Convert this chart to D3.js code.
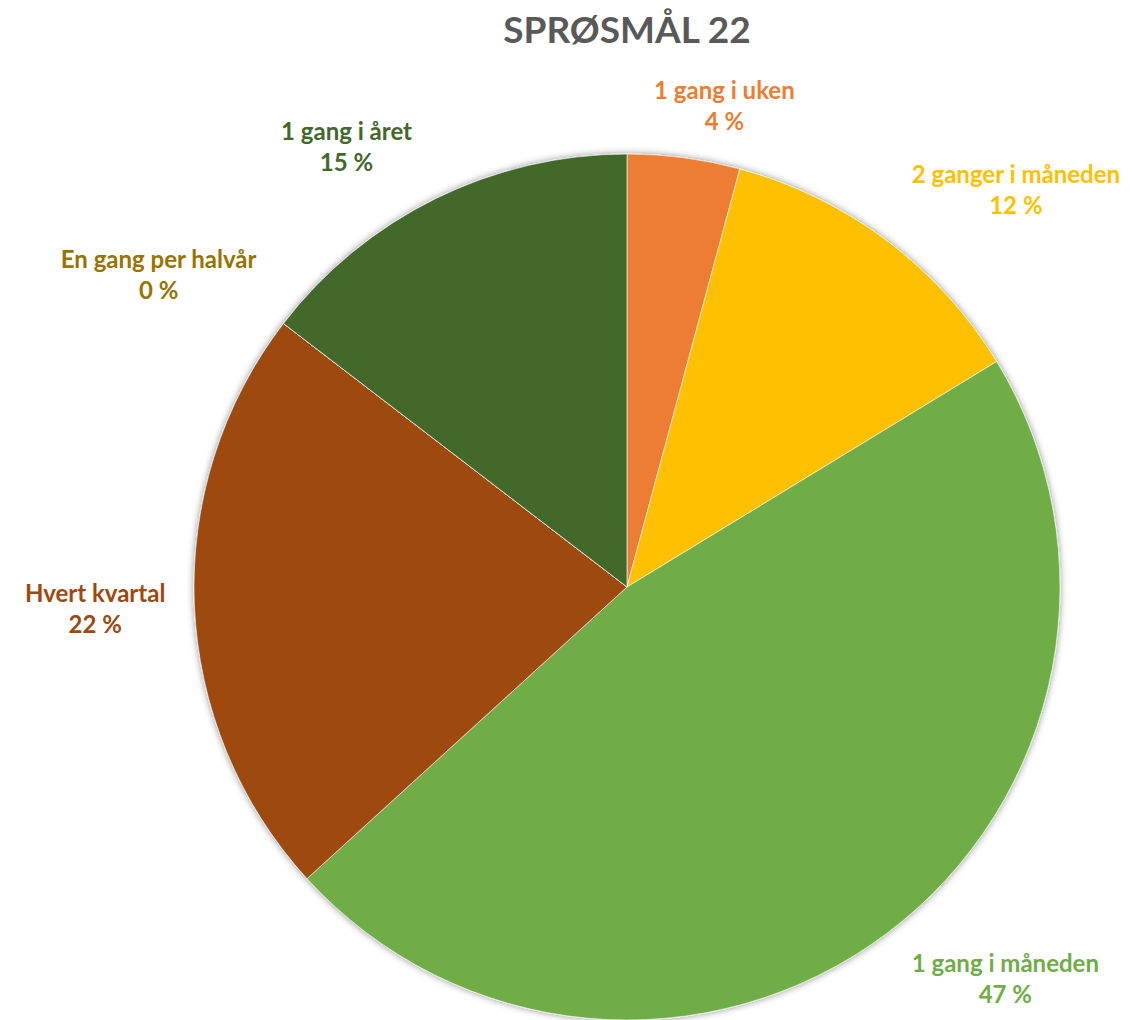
<!DOCTYPE html>
<html>
<head>
<meta charset="utf-8">
<script src="https://cdn.jsdelivr.net/npm/d3@7"></script>
<style>
  html, body { margin: 0; padding: 0; background: #ffffff; }
  svg { display: block; }
</style>
</head>
<body>
<svg id="chart" width="1132" height="1020"></svg>
<script>
// ---- data ----
const title = "SPRØSMÅL 22";
const categories = ["1 gang i uken", "2 ganger i måneden", "1 gang i måneden", "Hvert kvartal", "En gang per halvår", "1 gang i året"];
const values = [4.2, 12.1, 47.0, 22.2, 0, 14.6];
const sliceColors = ["#ED7D31", "#FFC000", "#70AD47", "#9E480E", "#997300", "#43682B"];

// ---- layout ----
const W = 1132, H = 1020;
const cx = 627, cy = 587, R = 433;
const fontFamily = "Lato, 'Open Sans', 'Liberation Sans', sans-serif";

const svg = d3.select("#chart");

const defs = svg.append("defs");
const f = defs.append("filter").attr("id", "shadow")
  .attr("x", "-10%").attr("y", "-10%").attr("width", "120%").attr("height", "120%");
f.append("feDropShadow").attr("dx", 0).attr("dy", 0).attr("stdDeviation", 3.5)
  .attr("flood-color", "#000").attr("flood-opacity", 0.45);

svg.append("text")
  .attr("x", cx).attr("y", 43)
  .attr("text-anchor", "middle")
  .attr("font-family", fontFamily).attr("font-weight", "bold")
  .attr("font-size", 37).attr("fill", "#595959")
  .text(title);

const data = categories.map((c, i) => ({ name: c, value: values[i], color: sliceColors[i] }));

const pie = d3.pie().sort(null).value(d => d.value);
const arcs = pie(data);
const arc = d3.arc().innerRadius(0).outerRadius(R);

const g = svg.append("g").attr("transform", `translate(${cx},${cy})`);

const sliceG = g.append("g").attr("filter", "url(#shadow)");
sliceG.selectAll("path").data(arcs).join("path")
  .attr("d", arc)
  .attr("fill", d => d.data.color)
  .attr("stroke", "#ffffff").attr("stroke-width", 0.6);

// ---- labels ----
const fmt = d3.format(".0f");
const fs = 24, lineH = 31, gapR = 10, dx = 19, dy = 13;
const clamp = v => Math.max(-1, Math.min(1, v));

arcs.forEach(a => {
  const mid = (a.startAngle + a.endAngle) / 2;
  const s = Math.sin(mid), c = Math.cos(mid);
  const px = (R + gapR) * s, py = -(R + gapR) * c;

  const t = g.append("text")
    .attr("font-family", fontFamily).attr("font-weight", "bold")
    .attr("font-size", fs).attr("fill", a.data.color)
    .attr("text-anchor", "middle");
  t.append("tspan").attr("x", 0).attr("y", 0).text(a.data.name);
  t.append("tspan").attr("x", 0).attr("y", lineH).text(fmt(a.data.value) + " %");

  // visual box (cap-top of line 1 to descender of line 2)
  const bb = t.node().getBBox();
  const w = bb.width;
  const top0 = -fs * 0.72, bot0 = lineH + fs * 0.22;
  const h = bot0 - top0;

  const ks = clamp(s / 0.3), kc = clamp(c / 0.3);
  const left = px - w * (1 - ks) / 2 + ks * dx;
  const top = py - h * (1 + kc) / 2 - kc * dy;

  t.attr("transform", `translate(${left + w / 2},${top - top0})`);
});
</script>
</body>
</html>
